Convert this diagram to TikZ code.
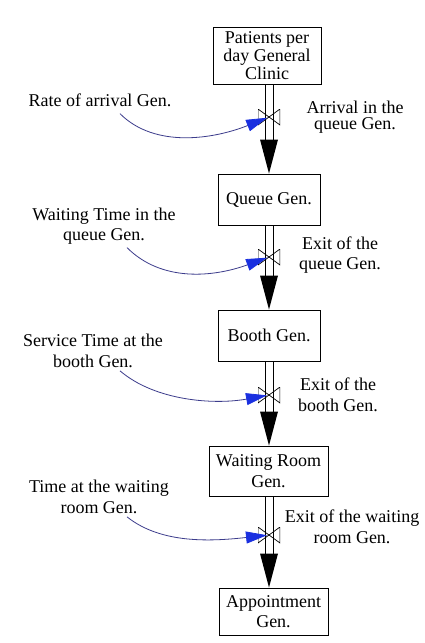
\documentclass[tikz,border=0pt]{standalone}
\usepackage{fontspec}
\setmainfont{Liberation Serif}
\usetikzlibrary{arrows.meta}
\definecolor{inflline}{HTML}{3C3C8C}
\definecolor{inflhead}{HTML}{1A30E0}
\tikzset{
  stock/.style={draw, line width=0.9pt, align=center, inner sep=0pt,
    font=\fontsize{18}{18}\selectfont},
  lbl/.style={align=center, inner sep=0pt, font=\fontsize{18}{20.5}\selectfont},
  valve/.style={minimum width=22pt, minimum height=16pt, inner sep=0pt,
    path picture={\draw[line width=0.7pt] (path picture bounding box.north west)
      -- (path picture bounding box.south east) -- (path picture bounding box.north east)
      -- (path picture bounding box.south west) -- cycle;}},
  pipe/.style={line width=0.9pt},
  infl/.style={draw=inflline, line width=0.8pt, shorten >=2pt,
    -{Triangle[length=21pt,width=12pt,color=inflhead,fill=inflhead]}},
}
\begin{document}
\begin{tikzpicture}[x=1pt,y=-1pt]
\useasboundingbox (0,0) rectangle (424,643);
\fill[white] (0,0) rectangle (424,643);
% stocks
\node[stock, minimum width=108pt, minimum height=57pt] (b1) at (267,55.5) {Patients per\\day General\\Clinic};
\node[stock, minimum width=102pt, minimum height=51pt] (b2) at (269,199.5) {Queue Gen.};
\node[stock, minimum width=102pt, minimum height=51pt] (b3) at (269,335.5) {Booth Gen.};
\node[stock, minimum width=119pt, minimum height=50pt, font=\fontsize{18}{21}\selectfont] (b4) at (268.5,471) {Waiting Room\\Gen.};
\node[stock, minimum width=109pt, minimum height=47pt, font=\fontsize{18}{20}\selectfont] (b5) at (273.5,611.5) {Appointment\\Gen.};
% valves
\node[valve] (v1) at (269,117) {};
\node[valve] (v2) at (269,257) {};
\node[valve] (v3) at (269,395) {};
\node[valve] (v4) at (269,535) {};
% pipes
\foreach \s/\v/\t in {b1/v1/b2, b2/v2/b3, b3/v3/b4, b4/v4/b5}{
  \draw[pipe] ([xshift=-4pt]\v |- \s.south) -- ([xshift=-4pt,yshift=34pt]\v |- \t.north);
  \draw[pipe] ([xshift=4pt]\v |- \s.south) -- ([xshift=4pt,yshift=34pt]\v |- \t.north);
  \fill ([xshift=-9pt,yshift=34pt]\v |- \t.north) -- ([xshift=9pt,yshift=34pt]\v |- \t.north) -- (\v |- \t.north) -- cycle;
}
% left labels
\node[lbl] (l1) at (100,100) {Rate of arrival Gen.};
\node[lbl] (l2) at (104,226) {Waiting Time in the\\queue Gen.};
\node[lbl] (l3) at (93,351) {Service Time at the\\booth Gen.};
\node[lbl] (l4) at (99,497) {Time at the waiting\\room Gen.};
% right labels
\node[lbl, font=\fontsize{18}{16.5}\selectfont] (r1) at (355,117) {Arrival in the\\queue Gen.};
\node[lbl] (r2) at (340,255) {Exit of the\\queue Gen.};
\node[lbl] (r3) at (338,395) {Exit of the\\booth Gen.};
\node[lbl] (r4) at (352,527) {Exit of the waiting\\room Gen.};
% influences
\draw[infl] ([xshift=20pt,yshift=-7pt]l1.south) .. controls +(35,35) and +(-55,22) .. (v1.center);
\draw[infl] ([xshift=23pt,yshift=-3pt]l2.south) .. controls +(35,35) and +(-55,20) .. (v2.center);
\draw[infl] ([xshift=27pt,yshift=-3pt]l3.south) .. controls +(35,30) and +(-55,10) .. (v3.center);
\draw[infl] ([xshift=28pt,yshift=-3pt]l4.south) .. controls +(35,28) and +(-55,6) .. (v4.center);
\end{tikzpicture}
\end{document}
